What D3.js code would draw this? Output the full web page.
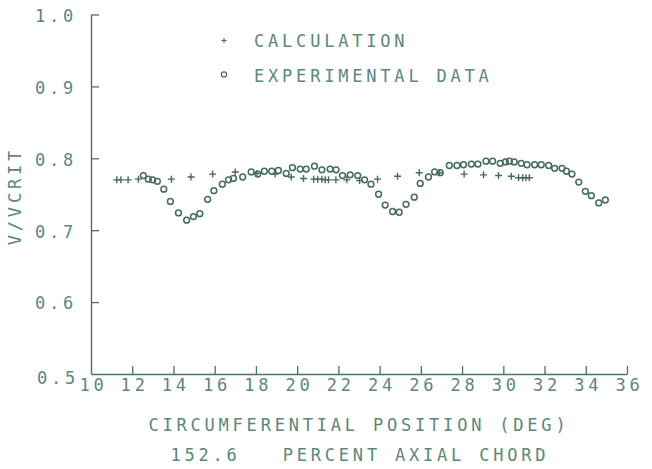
<!DOCTYPE html>
<html>
<head>
<meta charset="utf-8">
<script src="https://cdn.jsdelivr.net/npm/d3@7"></script>
<style>
  html, body { margin: 0; padding: 0; background: #ffffff; }
  svg { display: block; }
  text { font-family: "DejaVu Sans Mono", "Liberation Mono", monospace; }
</style>
</head>
<body>
<svg id="chart" width="652" height="469"></svg>
<script>
// ---- data ----
const xTicks = [10,12,14,16,18,20,22,24,26,28,30,32,34,36];
const yTicks = [0.5,0.6,0.7,0.8,0.9,1.0];

const calcX = [11.25,11.45,11.8,12.3,13.9,14.85,15.9,17.0,18.05,18.93,19.71,20.31,20.8,21.0,21.2,21.36,21.52,21.88,22.41,23.03,23.9,24.87,25.92,26.9,28.1,29.04,29.77,30.39,30.74,30.94,31.1,31.26];
const calcY = [0.770,0.770,0.770,0.771,0.771,0.774,0.778,0.781,0.779,0.778,0.774,0.772,0.771,0.771,0.771,0.770,0.770,0.770,0.770,0.769,0.771,0.775,0.780,0.780,0.778,0.777,0.776,0.775,0.773,0.773,0.773,0.773];

const expX = [12.54,12.78,12.99,13.22,13.53,13.85,14.24,14.64,14.97,15.28,15.66,15.96,16.37,16.67,16.91,17.36,17.77,18.09,18.41,18.77,19.09,19.47,19.77,20.15,20.44,20.84,21.2,21.6,21.89,22.2,22.57,22.94,23.27,23.58,23.95,24.27,24.63,24.95,25.28,25.68,25.97,26.37,26.67,26.94,27.38,27.75,28.07,28.45,28.77,29.16,29.48,29.85,30.1,30.29,30.53,30.87,31.15,31.52,31.84,32.2,32.49,32.85,33.06,33.33,33.66,33.98,34.27,34.63,34.95];
const expY = [0.776,0.771,0.770,0.768,0.757,0.740,0.724,0.714,0.719,0.723,0.743,0.755,0.764,0.770,0.772,0.774,0.781,0.778,0.782,0.782,0.783,0.779,0.787,0.785,0.785,0.789,0.784,0.785,0.784,0.776,0.777,0.776,0.770,0.764,0.750,0.735,0.726,0.725,0.736,0.746,0.765,0.774,0.781,0.780,0.790,0.790,0.791,0.792,0.792,0.796,0.796,0.793,0.795,0.796,0.795,0.793,0.791,0.791,0.791,0.790,0.786,0.786,0.782,0.778,0.767,0.754,0.748,0.738,0.742];

const legendLabels = ["CALCULATION", "EXPERIMENTAL DATA"];
const yTitle = "V/VCRIT";
const xTitle1 = "CIRCUMFERENTIAL POSITION (DEG)";
const xTitle2 = "152.6   PERCENT AXIAL CHORD";

// ---- styles ----
const inkLine = "#4a7367";
const inkText = "#5a887b";
const inkMark = "#436c60";
const fs = 17, ls = 3.8;

const svg = d3.select("#chart");
const x = d3.scaleLinear().domain([10, 36]).range([91, 627]);
const y = d3.scaleLinear().domain([0.5, 1.0]).range([374, 14.5]);

// x axis
const gx = svg.append("g").attr("transform", `translate(0,${y(0.5)})`)
  .call(d3.axisBottom(x).tickValues(xTicks).tickSize(-8).tickSizeOuter(0).tickPadding(5).tickFormat(d3.format("d")));
// y axis
const gy = svg.append("g").attr("transform", `translate(${x(10)},0)`)
  .call(d3.axisLeft(y).tickValues(yTicks).tickSize(-8).tickSizeOuter(0).tickPadding(14).tickFormat(d3.format(".1f")));

[gx, gy].forEach(g => {
  g.select(".domain").attr("stroke", inkLine).attr("stroke-width", 1.4);
  g.selectAll(".tick line").attr("stroke", inkLine).attr("stroke-width", 1.3);
  g.selectAll(".tick text").attr("fill", inkText).attr("font-size", fs)
    .attr("font-family", "DejaVu Sans Mono").style("letter-spacing", ls + "px");
});
gx.selectAll(".tick text").attr("dx", ls / 2);
gy.selectAll(".tick text").attr("dy", d => d === 0.5 ? "0.55em" : "0.40em")
  .attr("dx", d => d === 0.5 ? 2 : 0);
gy.selectAll(".tick").filter(d => d === 0.5).select("line").remove();
gx.selectAll(".tick").filter(d => d === 10).select("line").remove();

// titles
svg.append("text").attr("x", 357 + ls / 2).attr("y", 431)
  .attr("text-anchor", "middle").attr("fill", inkText).attr("font-size", fs)
  .style("letter-spacing", ls + "px").text(xTitle1);
svg.append("text").attr("x", 358 + ls / 2).attr("y", 461)
  .attr("text-anchor", "middle").attr("fill", inkText).attr("font-size", fs)
  .style("letter-spacing", ls + "px").style("white-space", "pre").attr("xml:space", "preserve").text(xTitle2);
svg.append("text").attr("transform", "translate(21,198) rotate(-90)")
  .attr("text-anchor", "middle").attr("fill", inkText).attr("font-size", fs)
  .attr("dx", ls / 2)
  .style("letter-spacing", ls + "px").text(yTitle);

// legend
const lg = svg.append("g");
lg.append("path").attr("d", `M221.5,40.5h5M224,38v5`).attr("stroke", inkMark).attr("stroke-width", 1.2);
lg.append("circle").attr("cx", 224).attr("cy", 74.5).attr("r", 2.6).attr("fill", "none").attr("stroke", inkMark).attr("stroke-width", 1.2);
lg.selectAll("text.leg").data(legendLabels).join("text").attr("class", "leg")
  .attr("x", 254).attr("y", (d, i) => 47 + i * 34.5)
  .attr("fill", inkText).attr("font-size", fs).style("letter-spacing", ls + "px")
  .text(d => d);

// experimental circles
svg.append("g").selectAll("circle").data(expX.map((v, i) => [v, expY[i]])).join("circle")
  .attr("cx", d => x(d[0])).attr("cy", d => y(d[1])).attr("r", 2.9)
  .attr("fill", "none").attr("stroke", inkMark).attr("stroke-width", 1.5);

// calculation plus signs
svg.append("g").selectAll("path").data(calcX.map((v, i) => [v, calcY[i]])).join("path")
  .attr("d", d => { const cx = x(d[0]), cy = y(d[1]); return `M${cx-3.5},${cy}h7M${cx},${cy-3.5}v7`; })
  .attr("stroke", inkMark).attr("stroke-width", 1.4).attr("fill", "none");
</script>
</body>
</html>
